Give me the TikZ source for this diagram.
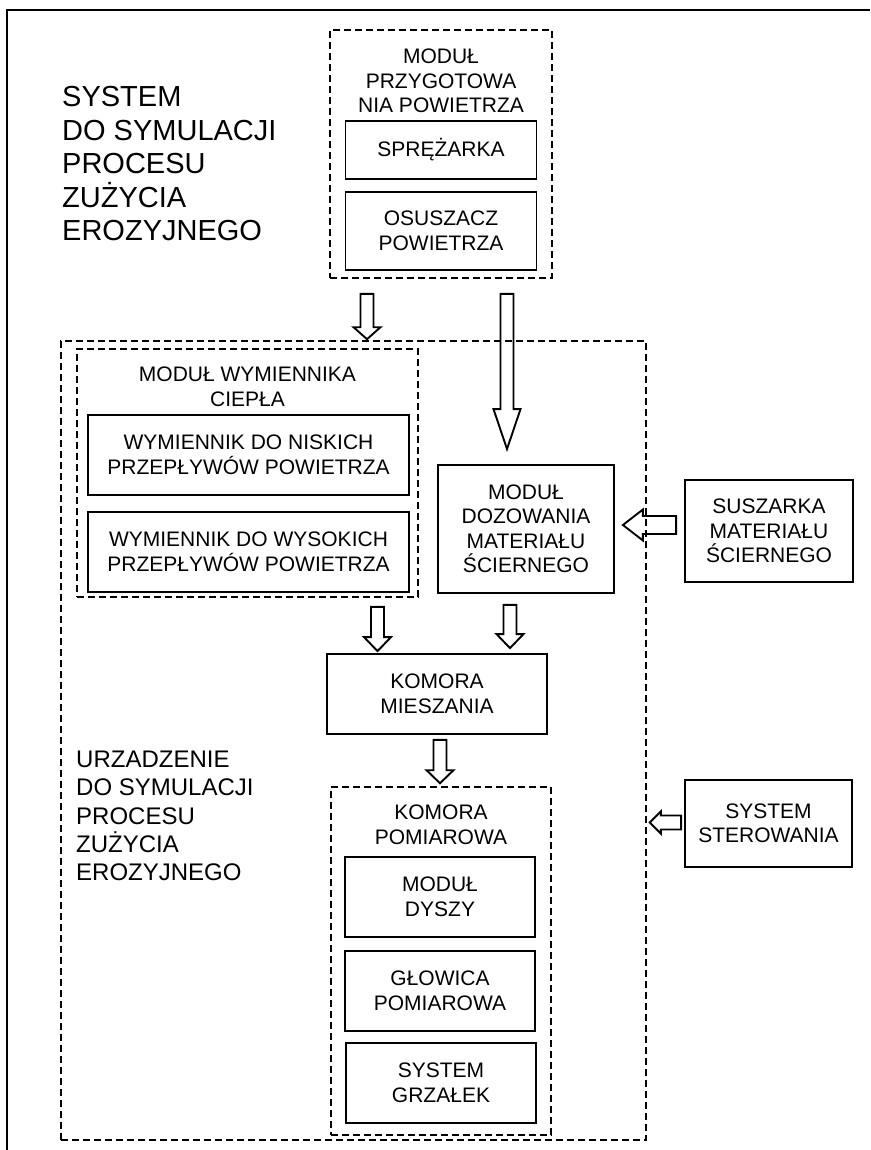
\documentclass[tikz,border=0pt]{standalone}
\usepackage{fontspec}
\setmainfont{Liberation Sans}
\usetikzlibrary{calc}

% hollow block arrow: start, end, shaft half width, head half width, head length
\newcommand{\fatarrow}[5]{%
  \coordinate (fh) at ($(#2)!#5!(#1)$);
  \draw[fatline] ($(#1)!#3!90:(#2)$) -- ($(fh)!#3!90:(#2)$) -- ($(fh)!#4!90:(#2)$) -- (#2)
    -- ($(fh)!#4!-90:(#2)$) -- ($(fh)!#3!-90:(#2)$) -- ($(#1)!#3!-90:(#2)$) -- cycle;
}

\begin{document}
\begin{tikzpicture}[x=1pt,y=-1pt,
      block/.style={draw,line width=1.8pt,align=center,inner sep=0pt,
        font=\fontsize{21}{24.5}\selectfont},
      dashbox/.style={draw,line width=1.6pt,dash pattern=on 7pt off 4pt,inner sep=0pt},
      lbl/.style={align=center,inner sep=0pt,font=\fontsize{21}{24.5}\selectfont},
      fatline/.style={draw,line width=1.9pt,line join=miter}]
      \useasboundingbox (0,0) rectangle (870,1150);
      \draw[line width=2.6pt] (7,1150) -- (7,10) -- (870,10);

      % titles
      \node[align=left,inner sep=0pt,anchor=west,font=\fontsize{29}{33.5}\selectfont] (title) at (62,164)
        {SYSTEM\\DO SYMULACJI\\PROCESU\\ZUŻYCIA\\EROZYJNEGO};
      \node[align=left,inner sep=0pt,anchor=west,font=\fontsize{24}{28.3}\selectfont] (devtitle) at (76,816)
        {URZADZENIE\\DO SYMULACJI\\PROCESU\\ZUŻYCIA\\EROZYJNEGO};

      % air preparation module
      \node[dashbox,minimum width=222pt,minimum height=248pt] (airprep) at (441,154) {};
      \node[lbl] (airprep-t) at (441,81) {MODUŁ\\PRZYGOTOWA\\NIA POWIETRZA};
      \node[block,minimum width=191pt,minimum height=58pt] (compr) at (441,150) {SPRĘŻARKA};
      \node[block,minimum width=191pt,minimum height=78pt] (dryair) at (441,231) {OSUSZACZ\\POWIETRZA};

      % device
      \node[dashbox,minimum width=585pt,minimum height=799pt] (device) at (353.5,740.5) {};

      % heat exchanger module
      \node[dashbox,minimum width=341pt,minimum height=248pt] (hexmod) at (247.5,473) {};
      \node[lbl] (hexmod-t) at (247.5,387) {MODUŁ WYMIENNIKA\\CIEPŁA};
      \node[block,minimum width=321pt,minimum height=80pt] (hexlow) at (248.5,455)
        {WYMIENNIK DO NISKICH\\PRZEPŁYWÓW POWIETRZA};
      \node[block,minimum width=321pt,minimum height=80pt] (hexhigh) at (248.5,552)
        {WYMIENNIK DO WYSOKICH\\PRZEPŁYWÓW POWIETRZA};

      \node[block,minimum width=176pt,minimum height=128pt] (dosing) at (526,529)
        {MODUŁ\\DOZOWANIA\\MATERIAŁU\\ŚCIERNEGO};
      \node[block,minimum width=168pt,minimum height=102pt] (dryer) at (769,531)
        {SUSZARKA\\MATERIAŁU\\ŚCIERNEGO};
      \node[block,minimum width=167pt,minimum height=87pt] (control) at (768.5,823.5)
        {SYSTEM\\STEROWANIA};
      \node[block,minimum width=220pt,minimum height=80pt] (mixer) at (437,694)
        {KOMORA\\MIESZANIA};

      % measuring chamber
      \node[dashbox,minimum width=220pt,minimum height=348pt] (meas) at (441,961) {};
      \node[lbl] (meas-t) at (441,825) {KOMORA\\POMIAROWA};
      \node[block,minimum width=190pt,minimum height=80pt] (nozzle) at (440,897) {MODUŁ\\DYSZY};
      \node[block,minimum width=190pt,minimum height=80pt] (mhead) at (440,991) {GŁOWICA\\POMIAROWA};
      \node[block,minimum width=190pt,minimum height=80pt] (heaters) at (441,1083) {SYSTEM\\GRZAŁEK};

      % arrow ends
      \coordinate (a1s) at ([xshift=-74pt,yshift=-15pt]airprep.south);
      \path (a1s |- device.north) ++(0,-1) coordinate (a1e);
      \coordinate (a2s) at ([xshift=66pt,yshift=-15pt]airprep.south);
      \path (a2s |- dosing.north) ++(0,-15) coordinate (a2e);
      \coordinate (a3s) at ([xshift=130pt,yshift=-9pt]hexmod.south);
      \path (a3s |- mixer.north) ++(0,-2) coordinate (a3e);
      \coordinate (a4s) at ([xshift=-16pt,yshift=-11pt]dosing.south);
      \path (a4s |- mixer.north) ++(0,-5) coordinate (a4e);
      \coordinate (a5s) at ([xshift=3pt,yshift=-5pt]mixer.south);
      \path (a5s |- meas.north) ++(0,-3) coordinate (a5e);
      \coordinate (a6s) at ([xshift=-8pt,yshift=6pt]dryer.west);
      \path (a6s -| dosing.east) ++(8,0) coordinate (a6e);
      \coordinate (a7s) at ([xshift=-3pt,yshift=1pt]control.west);
      \path (a7s -| device.east) ++(3,0) coordinate (a7e);

      \fatarrow{a1s}{a1e}{6.5pt}{13.5pt}{12pt}
      \fatarrow{a2s}{a2e}{6.5pt}{13.5pt}{40pt}
      \fatarrow{a3s}{a3e}{6.5pt}{13.5pt}{14pt}
      \fatarrow{a4s}{a4e}{6.5pt}{13.5pt}{14pt}
      \fatarrow{a5s}{a5e}{6.5pt}{13.5pt}{13pt}
      \fatarrow{a6s}{a6e}{9pt}{15.5pt}{20pt}
      \fatarrow{a7s}{a7e}{7pt}{11pt}{11pt}
    \end{tikzpicture}
\end{document}
